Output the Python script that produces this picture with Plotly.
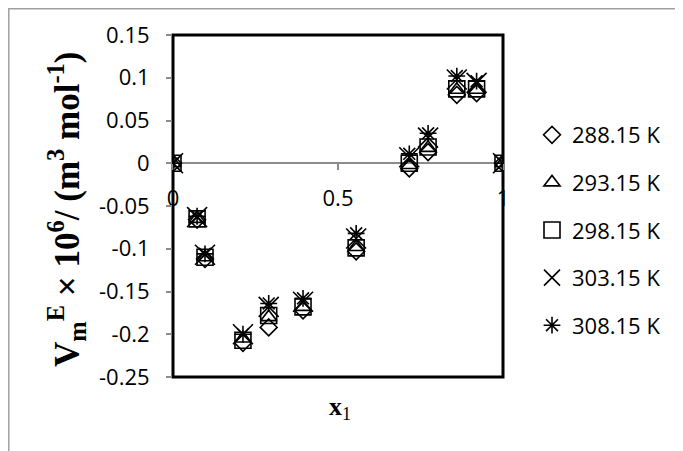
import plotly.graph_objects as go

x1 = [0, 0.073, 0.097, 0.212, 0.29, 0.394, 0.555, 0.716, 0.773, 0.86, 0.92, 1]
v_288 = [0, -0.066, -0.112, -0.21, -0.192, -0.172, -0.103, -0.006, 0.013, 0.080, 0.082, 0]
v_293 = [0, -0.065, -0.110, -0.205, -0.180, -0.168, -0.098, -0.002, 0.018, 0.086, 0.086, 0]
v_298 = [0, -0.065, -0.110, -0.207, -0.178, -0.168, -0.099, 0.000, 0.019, 0.087, 0.087, 0]
v_303 = [0, -0.063, -0.107, -0.200, -0.168, -0.162, -0.088, 0.007, 0.030, 0.098, 0.094, 0]
v_308 = [0, -0.062, -0.106, -0.200, -0.164, -0.158, -0.082, 0.011, 0.035, 0.102, 0.096, 0]

labels = ["288.15 K", "293.15 K", "298.15 K", "303.15 K", "308.15 K"]
series = [v_288, v_293, v_298, v_303, v_308]
symbols = ["diamond-open", "triangle-up-open", "square-open", "x-thin-open", "asterisk-open"]
sizes = [13, 14, 16, 20, 14]

y_ticks = [0.15, 0.1, 0.05, 0, -0.05, -0.1, -0.15, -0.2, -0.25]
x_ticks = [0, 0.5, 1]

fig = go.Figure()
for lab, ys, sym, sz in zip(labels, series, symbols, sizes):
    fig.add_trace(go.Scatter(
        x=x1, y=ys, mode="markers", name=lab, legendgroup=lab,
        marker=dict(symbol=sym, size=sz, color="black",
                    line=dict(color="black", width=1.6)),
    ))

W, H = 675, 443
L, T, PW, PH = 165, 27, 330, 342
ymin, ymax = -0.25, 0.15


def px(xf):
    return (xf - L) / PW


def py(yf):
    return (T + PH - yf) / PH


fig.update_layout(
    width=W, height=H,
    margin=dict(l=L, r=W - L - PW, t=T, b=H - T - PH),
    paper_bgcolor="white", plot_bgcolor="white",
    font=dict(family="Open Sans", size=22, color="black"),
    showlegend=True,
    legend=dict(x=px(524), y=py(106), xanchor="left", yanchor="top",
                font=dict(family="Open Sans", size=22, color="black"),
                tracegroupgap=16, itemwidth=30, bgcolor="rgba(0,0,0,0)"),
    xaxis=dict(range=[0, 1], tickvals=x_ticks, ticktext=["0", "0.5", "1"],
               anchor="free", position=(0 - ymin) / (ymax - ymin),
               showline=True, linecolor="#8c8c8c", linewidth=1.5,
               ticks="outside", ticklen=6, tickcolor="#8c8c8c", tickwidth=1.5,
               ticklabelstandoff=10,
               showgrid=False, zeroline=False, layer="below traces"),
    yaxis=dict(range=[ymin, ymax], tickvals=y_ticks,
               ticktext=[str(v) for v in y_ticks],
               showline=False, ticks="outside", ticklen=6, tickcolor="#8c8c8c",
               tickwidth=1.5, ticklabelstandoff=12,
               showgrid=False, zeroline=False),
    shapes=[
        dict(type="rect", xref="paper", yref="paper", x0=0, x1=1, y0=0, y1=1,
             line=dict(color="black", width=3), layer="below"),
        dict(type="rect", xref="paper", yref="paper",
             x0=px(0.8), x1=px(W + 20), y0=py(0.8), y1=py(H + 20),
             line=dict(color="#a0a0a0", width=1.5), layer="below"),
    ],
    annotations=[
        dict(text="<b>V<sub>m</sub><sup>E</sup> × 10<sup>6</sup>/ (m<sup>3</sup> mol<sup>-1</sup>)</b>",
             xref="paper", yref="paper", x=px(58), y=py(201),
             textangle=-90, showarrow=False, xanchor="center", yanchor="middle",
             font=dict(family="Liberation Serif", size=35, color="black")),
        dict(text="<b>x</b><sub>1</sub>",
             xref="paper", yref="paper", x=px(332), y=py(400),
             showarrow=False, xanchor="center", yanchor="middle",
             font=dict(family="Liberation Serif", size=26, color="black")),
    ],
)

fig.write_html("out.html")
